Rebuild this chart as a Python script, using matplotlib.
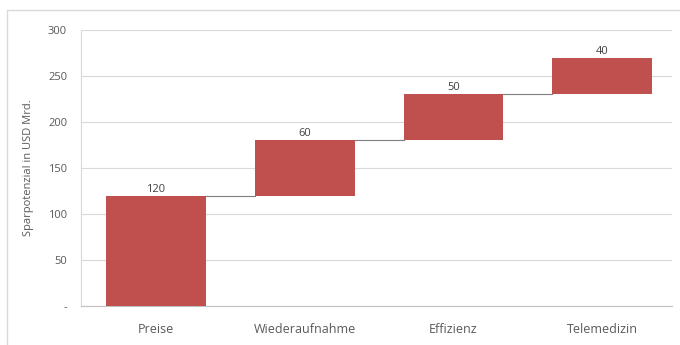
import matplotlib
matplotlib.use("Agg")
import matplotlib.pyplot as plt
from matplotlib.patches import Rectangle
import numpy as np

categories = ["Preise", "Wiederaufnahme", "Effizienz", "Telemedizin"]
values = [120, 60, 50, 40]
yticks = [0, 50, 100, 150, 200, 250, 300]
ytick_labels = ["-", "50", "100", "150", "200", "250", "300"]

bar_color = "#C0504D"
text_color = "#595959"

plt.rcParams['font.family'] = ['Open Sans', 'DejaVu Sans']

fig = plt.figure(figsize=(6.8, 3.45), dpi=100)
ax = fig.add_axes([81/680, 1 - 306/345, (672-81)/680, (306-30)/345])

# figure border (top and left visible)
fig.add_artist(Rectangle((7/680, -0.1), 1.2, (345-10)/345 + 0.1, transform=fig.transFigure,
                         fill=False, edgecolor="#D9D9D9", linewidth=1.0))

x = np.arange(len(categories))
bottoms = np.concatenate([[0], np.cumsum(values)[:-1]])
tops = bottoms + np.array(values)
width = 0.67

ax.bar(x, values, bottom=bottoms, width=width, color=bar_color, zorder=3)

# connectors
for i in range(len(categories) - 1):
    ax.plot([x[i] + width/2, x[i+1] - width/2], [tops[i], tops[i]],
            color="#7F7F7F", linewidth=0.8, zorder=2)

for xi, t, v in zip(x, tops, values):
    ax.text(xi, t + 1.0, str(v), ha="center", va="bottom", fontsize=8, color="#404040")

ax.set_ylim(0, 300)
ax.set_xlim(-0.505, 3.47)
ax.set_yticks(yticks)
ax.set_yticklabels(ytick_labels)
ax.set_xticks(x)
ax.set_xticklabels(categories)
ax.yaxis.grid(True, color="#D9D9D9", linewidth=0.8, zorder=0)
ax.set_axisbelow(True)

for s in ["top", "right"]:
    ax.spines[s].set_visible(False)
ax.spines["left"].set_color("#D9D9D9")
ax.spines["bottom"].set_color("#BFBFBF")
ax.tick_params(axis="y", length=0, labelsize=8, labelcolor=text_color, pad=10)
ax.tick_params(axis="x", length=0, labelsize=9, labelcolor=text_color, pad=12)

ax.set_ylabel("Sparpotenzial in USD Mrd.", fontsize=8, color=text_color, labelpad=10)

fig.savefig("out.png", dpi=100)
